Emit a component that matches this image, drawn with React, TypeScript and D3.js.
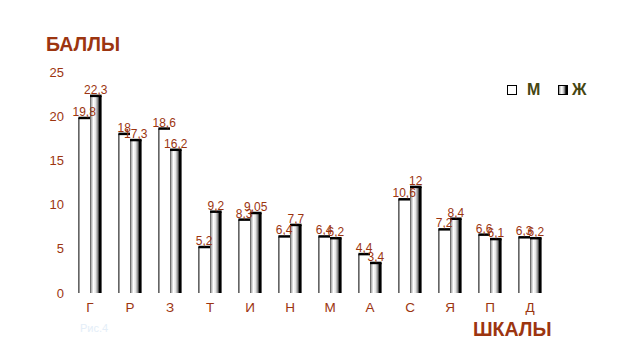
import * as React from "react";
import * as d3 from "d3";

const categories = ["Г", "Р", "З", "Т", "И", "Н", "М", "А", "С", "Я", "П", "Д"];
const seriesNames = ["М", "Ж"];
const maleValues = [19.8, 18, 18.6, 5.2, 8.3, 6.4, 6.4, 4.4, 10.6, 7.2, 6.6, 6.3];
const femaleValues = [22.3, 17.3, 16.2, 9.2, 9.05, 7.7, 6.2, 3.4, 12, 8.4, 6.1, 6.2];
const yTicks = [0, 5, 10, 15, 20, 25];

const brown = "#9c3510";
const fmt = (v: number) => String(v).replace(".", ",");

function App() {
  const width = 632;
  const height = 361;

  const xScale = d3
    .scaleBand<string>()
    .domain(categories)
    .range([70, 550])
    .paddingInner(0.42)
    .paddingOuter(0.21);

  const inner = d3
    .scaleBand<string>()
    .domain(seriesNames)
    .range([0, xScale.bandwidth()]);

  const yScale = d3.scaleLinear().domain([0, 25]).range([293, 72]);

  const bw = inner.bandwidth();

  return (
    <svg
      width={width}
      height={height}
      style={{ position: "absolute", left: 0, top: 0 }}
      fontFamily="Liberation Sans, Arial, sans-serif"
    >
      <defs>
        <linearGradient id="femGrad" x1="0" x2="1" y1="0" y2="0">
          <stop offset="0%" stopColor="#4a4a4a" />
          <stop offset="12%" stopColor="#b0b0b0" />
          <stop offset="30%" stopColor="#ffffff" />
          <stop offset="48%" stopColor="#e4e4e4" />
          <stop offset="64%" stopColor="#9a9a9a" />
          <stop offset="76%" stopColor="#3c3c3c" />
          <stop offset="82%" stopColor="#000000" />
          <stop offset="100%" stopColor="#000000" />
        </linearGradient>
      </defs>
      <rect width={width} height={height} fill="#ffffff" />

      <text x={46} y={51} fontSize={19.5} fontWeight="bold" fill={brown}>
        БАЛЛЫ
      </text>
      <text x={473} y={336} fontSize={19.5} fontWeight="bold" fill={brown}>
        ШКАЛЫ
      </text>
      <text x={80} y={332} fontSize={11} fill="#e4eef8">
        Рис.4
      </text>

      {/* y ticks */}
      <g fontSize={13} fill={brown} textAnchor="end">
        {yTicks.map((t) => (
          <text key={t} x={64} y={yScale(t)} dy="0.36em">
            {t}
          </text>
        ))}
      </g>

      {/* category labels */}
      <g fontSize={13.5} fill={brown} textAnchor="middle">
        {categories.map((c) => (
          <text key={c} x={(xScale(c) ?? 0) + xScale.bandwidth() / 2} y={312}>
            {c}
          </text>
        ))}
      </g>

      {/* bars */}
      {categories.map((c, i) => {
        const x0 = xScale(c) ?? 0;
        const xm = x0 + (inner("М") ?? 0);
        const xf = x0 + (inner("Ж") ?? 0);
        const ym = yScale(maleValues[i]);
        const yf = yScale(femaleValues[i]);
        const y0 = yScale(0);
        return (
          <g key={c}>
            <rect x={xm} y={ym} width={bw} height={y0 - ym} fill="#fff" />
            <line x1={xm + 0.5} x2={xm + 0.5} y1={ym} y2={y0} stroke="#000" />
            <line x1={xm} x2={xm + bw} y1={ym} y2={ym} stroke="#000" strokeWidth={2.5} />
            <rect x={xf} y={yf} width={bw} height={y0 - yf} fill="url(#femGrad)" />
            <line x1={xf} x2={xf + bw} y1={yf} y2={yf} stroke="#000" strokeWidth={2.5} />
          </g>
        );
      })}

      {/* value labels */}
      <g fontSize={12} fill={brown} textAnchor="middle">
        {categories.map((c, i) => {
          const x0 = xScale(c) ?? 0;
          return (
            <g key={c}>
              <text x={x0 + (inner("М") ?? 0) + bw / 2} y={yScale(maleValues[i]) - 2}>
                {fmt(maleValues[i])}
              </text>
              <text x={x0 + (inner("Ж") ?? 0) + bw / 2} y={yScale(femaleValues[i]) - 2}>
                {fmt(femaleValues[i])}
              </text>
            </g>
          );
        })}
      </g>

      {/* legend */}
      <rect x={507.5} y={85.5} width={9} height={9} fill="#fff" stroke="#000" />
      <text x={527} y={95} fontSize={16} fontWeight="bold" fill="#464612">
        М
      </text>
      <rect x={558.5} y={85.5} width={9} height={9} fill="url(#femGrad)" stroke="#000" />
      <text x={572} y={95} fontSize={16} fontWeight="bold" fill="#464612">
        Ж
      </text>
    </svg>
  );
}

export default App;
